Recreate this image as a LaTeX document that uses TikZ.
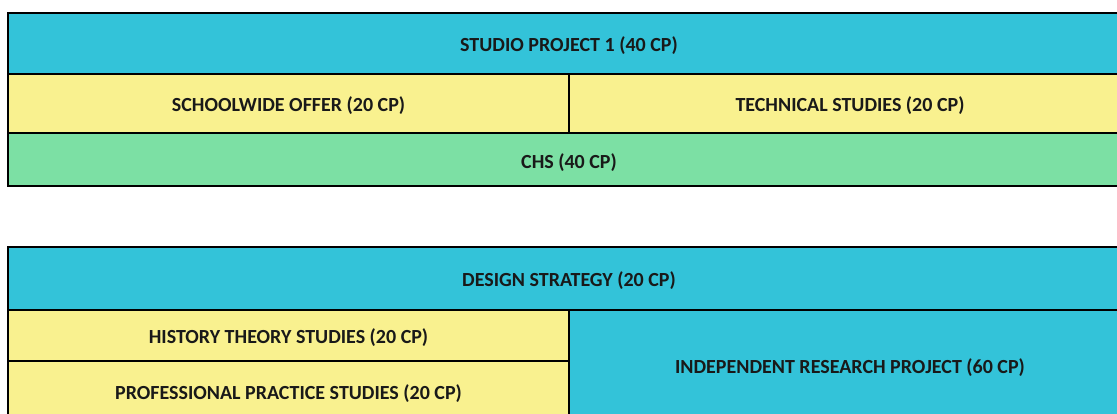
\documentclass[tikz,border=0pt]{standalone}
\usepackage{fontspec}
\setmainfont{Carlito}
\definecolor{cblue}{RGB}{51,195,217}
\definecolor{cyellow}{RGB}{249,241,143}
\definecolor{cgreen}{RGB}{124,224,164}
\begin{document}
\begin{tikzpicture}[x=1pt,y=-1pt,
  cell/.style={draw=black,line width=2pt},
  lbl/.style={font=\fontsize{20}{24}\selectfont\bfseries,text=black!90,inner sep=0pt,yshift=-2pt}]
\useasboundingbox (0,0) rectangle (1117,414);
\clip (0,0) rectangle (1117,414);
% top table
\filldraw[cell,fill=cblue] (8,13) rectangle (1131,74.5);
\filldraw[cell,fill=cyellow] (8,74.5) rectangle (569,133.5);
\filldraw[cell,fill=cyellow] (569,74.5) rectangle (1131,133.5);
\filldraw[cell,fill=cgreen] (8,133.5) rectangle (1131,186.5);
\node[lbl] (sp) at (569,44) {STUDIO PROJECT 1 (40 CP)};
\node[lbl] (so) at (288.5,104) {SCHOOLWIDE OFFER (20 CP)};
\node[lbl] (ts) at (850,104) {TECHNICAL STUDIES (20 CP)};
\node[lbl] (chs) at (569,160.5) {CHS (40 CP)};
% bottom table
\filldraw[cell,fill=cblue] (8,247.5) rectangle (1131,310);
\filldraw[cell,fill=cyellow] (8,310) rectangle (569,360.5);
\filldraw[cell,fill=cyellow] (8,360.5) rectangle (569,423);
\filldraw[cell,fill=cblue] (569,310) rectangle (1131,423);
\node[lbl] (ds) at (569,279) {DESIGN STRATEGY (20 CP)};
\node[lbl] (ht) at (288.5,335.5) {HISTORY THEORY STUDIES (20 CP)};
\node[lbl] (pp) at (288.5,392) {PROFESSIONAL PRACTICE STUDIES (20 CP)};
\node[lbl] (ir) at (850,366) {INDEPENDENT RESEARCH PROJECT (60 CP)};
\end{tikzpicture}
\end{document}
